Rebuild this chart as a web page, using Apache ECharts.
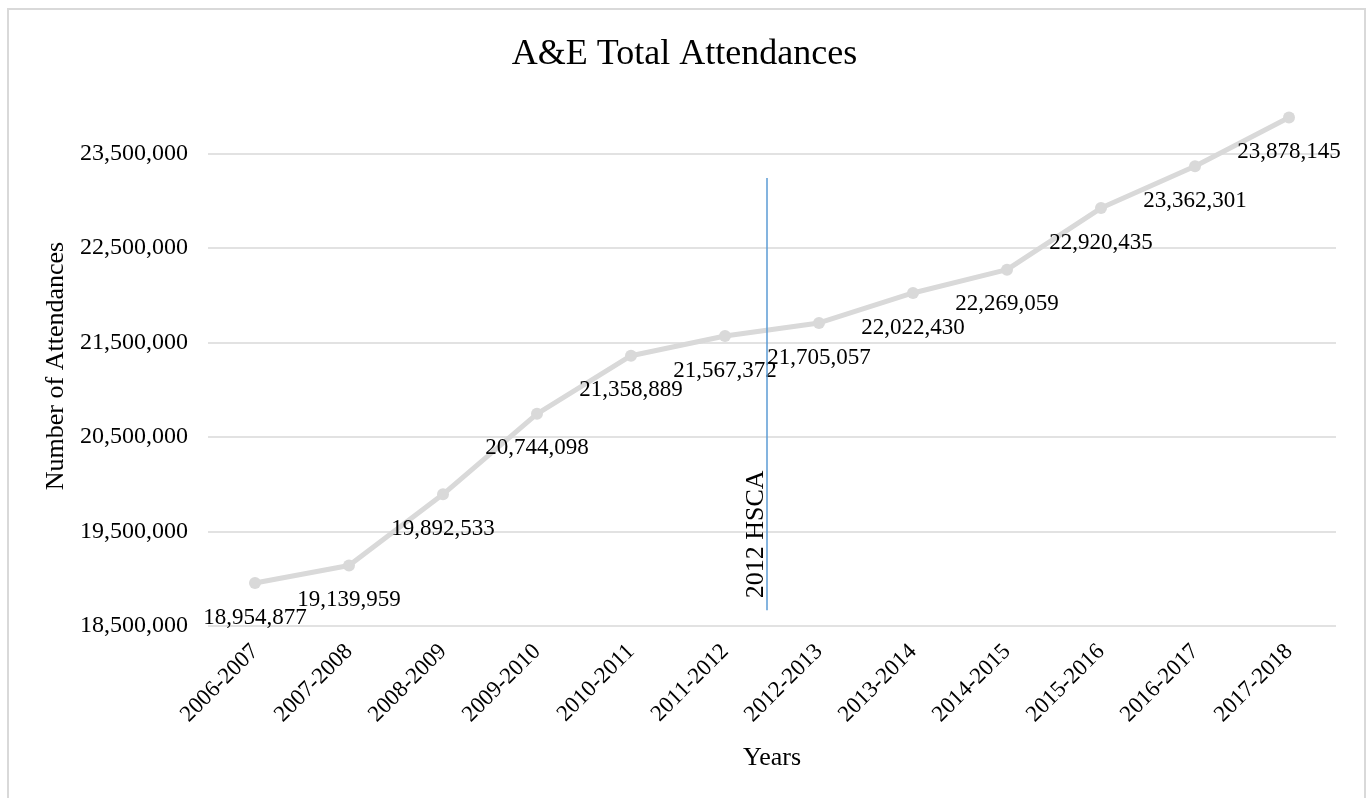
<!DOCTYPE html>
<html>
<head>
<meta charset="utf-8">
<title>A&amp;E Total Attendances</title>
<script src="https://cdn.jsdelivr.net/npm/echarts@6/dist/echarts.min.js"></script>
<style>
	html, body { margin: 0; padding: 0; background: #fff; overflow: hidden; }
	#frame { position: absolute; left: 7px; top: 8px; width: 1359px; height: 820px; border: 2px solid #d9d9d9; box-sizing: border-box; }
	#chart { position: absolute; left: 0; top: 0; width: 1369px; height: 798px; }
</style>
</head>
<body>
<div id="frame"></div>
<div id="chart"></div>
<script>
// data
const years = [
	'2006-2007', '2007-2008', '2008-2009', '2009-2010', '2010-2011', '2011-2012',
	'2012-2013', '2013-2014', '2014-2015', '2015-2016', '2016-2017', '2017-2018'
];
const attendances = [
	18954877, 19139959, 19892533, 20744098, 21358889, 21567372,
	21705057, 22022430, 22269059, 22920435, 23362301, 23878145
];
const yTicks = [18500000, 19500000, 20500000, 21500000, 22500000, 23500000];

// 2012 HSCA marker: x on a 0..12 band scale (category i sits at i + 0.5)
const hscaX = 5.94;
const hscaSpan = [18666000, 23239000];

const font = "'Liberation Serif', 'Times New Roman', serif";
const fmt = v => v.toLocaleString('en-US');

const chart = echarts.init(document.getElementById('chart'), null, { renderer: 'canvas' });

const option = {
	animation: false,
	backgroundColor: 'transparent',
	textStyle: { fontFamily: font, color: '#000' },
	title: {
		text: 'A&E Total Attendances',
		left: 'center',
		top: 32,
		textStyle: { fontFamily: font, fontSize: 36, fontWeight: 'normal', color: '#000' }
	},
	grid: { left: 208, right: 33, top: 106, bottom: 172 },
	xAxis: [
		{
			type: 'category',
			data: years,
			boundaryGap: true,
			axisLine: { show: false },
			axisTick: { show: false },
			axisLabel: { interval: 0, rotate: 45, margin: 22, fontSize: 23, fontFamily: font, color: '#000' },
			name: 'Years',
			nameLocation: 'middle',
			nameGap: 119,
			nameTextStyle: { fontSize: 26, fontFamily: font, color: '#000' }
		},
		{ type: 'value', min: 0, max: 12, show: false }
	],
	yAxis: {
		type: 'value',
		min: 18500000,
		max: 24000000,
		interval: 500000,
		axisLine: { show: false },
		axisTick: { show: false },
		splitLine: { show: false },
		axisLabel: {
			margin: 20,
			fontSize: 24,
			fontFamily: font,
			color: '#000',
			formatter: v => yTicks.includes(v) ? fmt(v) : ''
		},
		name: 'Number of Attendances',
		nameLocation: 'middle',
		nameGap: 127,
		nameTextStyle: { fontSize: 26, fontFamily: font, color: '#000' }
	},
	series: [
		{
			// gridlines
			type: 'line',
			data: [],
			z: 1,
			markLine: {
				silent: true,
				z: 1,
				symbol: ['none', 'none'],
				label: { show: false },
				lineStyle: { color: '#d9d9d9', width: 1.5, type: 'solid' },
				data: yTicks.map(v => ({ yAxis: v }))
			}
		},
		{
			name: 'Attendances',
			type: 'line',
			z: 3,
			data: attendances,
			symbol: 'circle',
			symbolSize: 12,
			lineStyle: { color: '#d9d9d9', width: 5 },
			itemStyle: { color: '#d9d9d9' },
			label: {
				show: true,
				position: 'bottom',
				distance: 17,
				fontSize: 23,
				fontFamily: font,
				color: '#000',
				formatter: p => fmt(p.value)
			}
		},
		{
			name: 'HSCA',
			type: 'line',
			xAxisIndex: 1,
			data: [],
			z: 4,
			markLine: {
				silent: true,
				symbol: ['none', 'none'],
				lineStyle: { color: '#5b9bd5', width: 1.5, type: 'solid' },
				label: {
					show: true,
					formatter: '2012 HSCA',
					position: 'insideStartTop',
					distance: [12, -3],
					fontSize: 26,
					fontFamily: font,
					color: '#000'
				},
				data: [[{ coord: [hscaX, hscaSpan[0]] }, { coord: [hscaX, hscaSpan[1]] }]]
			}
		}
	]
};

chart.setOption(option);
</script>
</body>
</html>
